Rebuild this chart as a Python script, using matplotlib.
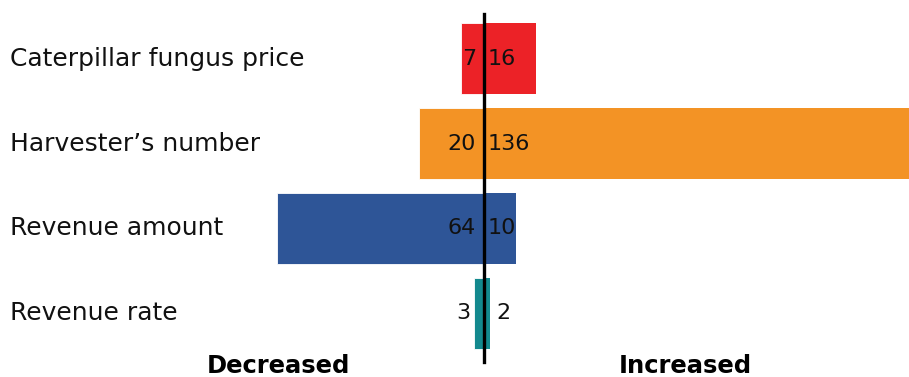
import matplotlib.pyplot as plt

categories = ["Caterpillar fungus price", "Harvester\u2019s number", "Revenue amount", "Revenue rate"]
decreased = [7, 20, 64, 3]
increased = [16, 136, 10, 2]
colors = ["#EC2227", "#F39325", "#2E5597", "#13898E"]

W, H = 909, 377
fig = plt.figure(figsize=(W / 100, H / 100), dpi=100)
ax = fig.add_axes([0, 0, 1, 1])

# pixel layout of the reference
center_px = 484
px_per_unit = 3.23
row0_px, row_step = 58.8, 84.8

ypos = list(range(len(categories)))
ax.barh(ypos, [-v for v in decreased], height=0.84, color=colors, edgecolor="white", linewidth=0.6)
ax.barh(ypos, increased, height=0.84, color=colors, edgecolor="none")

ax.set_xlim(-center_px / px_per_unit, (W - center_px) / px_per_unit)
ax.set_ylim((H - row0_px) / row_step, -row0_px / row_step)
ax.axis("off")

ax.axvline(0, ymin=15 / H, ymax=(H - 14) / H, color="black", lw=2.4)

font = "DejaVu Sans"
for i, (d, inc) in enumerate(zip(decreased, increased)):
    # small values sit just outside their bar
    dx_left = -(d + 1.3) if d < 5 else -2.5
    dx_right = inc + 1.7 if inc < 5 else 1.0
    ax.text(dx_left, i, str(d), ha="right", va="center", fontsize=16, family=font, color="#111111")
    ax.text(dx_right, i, str(inc), ha="left", va="center", fontsize=16, family=font, color="#111111")
    fig.text(10 / W, 1 - (row0_px + row_step * i) / H, categories[i], ha="left", va="center",
             fontsize=18, family=font, color="#111111")

fig.text(278 / W, 1 - 366 / H, "Decreased", ha="center", va="center", fontsize=17.5,
         fontweight="bold", family=font)
fig.text(685 / W, 1 - 366 / H, "Increased", ha="center", va="center", fontsize=17.5,
         fontweight="bold", family=font)

fig.savefig("out.png", dpi=100)
